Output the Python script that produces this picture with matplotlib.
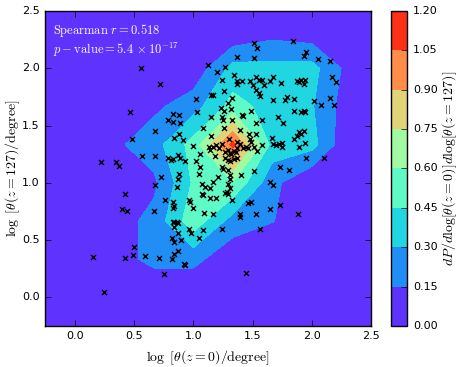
import numpy as np
import matplotlib
matplotlib.use("Agg")
import matplotlib.pyplot as plt

# ── DATA ──────────────────────────────────────────────────────────────────
# log theta(z=0), log theta(z=127) in degrees
x_z0 = [
    0.72, 1.12, 1.02, 1.20, 1.27, 1.37, 1.51, 1.54, 1.51, 1.34, 1.24, 1.37, 1.41, 1.37, 1.48, 1.53,
    1.55, 1.50, 1.53, 1.55, 1.26, 1.15, 1.17, 1.33, 1.29, 1.03, 1.23, 1.26, 1.32, 0.83, 0.88, 1.49,
    1.84, 1.95, 1.93, 2.05, 2.15, 2.17, 2.20, 1.58, 1.60, 1.65, 1.67, 1.74, 1.87, 1.89, 1.91, 1.94,
    1.93, 1.56, 1.67, 1.77, 1.79, 1.85, 2.02, 2.08, 2.15, 2.19, 1.85, 1.93, 1.94, 1.91,
    0.68, 0.79, 0.83, 0.89, 1.15, 1.24, 1.25, 1.33, 1.41, 1.42, 1.08, 1.26, 1.39, 1.47,
    0.88, 0.84, 0.91, 1.00, 1.15, 1.13, 1.14, 1.17, 1.19, 1.22, 1.24, 1.27, 1.29, 1.31, 1.32,
    1.34, 1.36, 1.30, 1.37, 1.39, 1.37, 1.42, 1.44, 1.46, 1.48, 1.49, 1.51, 0.68, 0.79,
    0.81, 0.83, 0.87, 0.89, 0.93, 1.06, 1.18, 1.27, 1.29, 1.31, 1.34, 1.37, 1.06, 1.05, 1.24,
    1.25, 1.29, 1.31, 0.88, 0.73, 0.87, 1.21, 1.17, 1.31, 0.68, 0.86, 1.07, 1.10, 1.14, 1.29, 1.31,
    1.40, 1.51, 1.07, 1.08, 1.14, 1.19, 1.27, 1.29, 1.28, 1.33, 1.02,
    1.58, 1.53, 1.71, 1.76, 1.53, 1.58, 1.54, 1.66, 1.67, 1.70, 1.72, 1.75, 1.75, 1.85, 1.87, 1.89,
    1.91, 1.93, 1.94, 1.89, 1.95, 2.10, 1.73, 1.81, 1.65, 1.67,
    0.76, 0.83, 0.84, 0.83, 0.96, 0.97, 1.00, 0.67, 1.09, 1.17, 0.83, 0.84, 0.86, 0.87, 0.84, 0.96,
    0.98, 1.08, 1.24, 0.87, 0.82, 0.84, 0.90, 1.05, 0.87, 0.84, 0.82, 0.71, 0.59, 0.50, 0.49, 0.92,
    0.93, 0.75,
    1.46, 1.49, 1.39, 1.39, 1.53, 1.65, 1.73, 1.56, 1.88, 1.44,
    0.56, 0.47, 0.48, 0.57, 0.22, 0.35, 0.37, 0.42, 0.40, 0.44, 0.42, 0.15, 0.25,
]
y_z127 = [
    1.86, 2.03, 1.73, 1.97, 2.01, 2.10, 2.22, 2.18, 2.09, 1.94, 1.90, 1.89, 1.89, 1.86, 1.89, 1.92,
    1.90, 1.85, 1.81, 1.78, 1.80, 1.77, 1.77, 1.74, 1.70, 1.62, 1.65, 1.63, 1.64, 1.60, 1.59, 1.63,
    2.24, 2.14, 2.11, 2.08, 2.06, 1.92, 1.88, 1.90, 1.85, 1.89, 1.92, 1.87, 1.89, 1.88, 1.90, 1.90,
    1.86, 1.76, 1.72, 1.72, 1.75, 1.73, 1.71, 1.68, 1.74, 1.68, 1.63, 1.63, 1.62, 1.62,
    1.45, 1.55, 1.53, 1.52, 1.57, 1.57, 1.55, 1.55, 1.59, 1.58, 1.48, 1.48, 1.46, 1.43,
    1.43, 1.39, 1.37, 1.32, 1.41, 1.31, 1.29, 1.31, 1.33, 1.30, 1.34, 1.27, 1.29, 1.26, 1.25,
    1.28, 1.27, 1.38, 1.36, 1.34, 1.30, 1.30, 1.31, 1.30, 1.38, 1.36, 1.31, 1.23, 1.22,
    1.20, 1.21, 1.24, 1.22, 1.19, 1.25, 1.23, 1.22, 1.20, 1.19, 1.21, 1.22, 1.14, 1.08, 1.14,
    1.12, 1.11, 1.07, 1.08, 1.05, 1.03, 1.05, 1.01, 1.03, 0.98, 0.96, 0.99, 0.96, 0.95, 0.99, 0.95,
    1.07, 1.10, 0.90, 0.89, 0.87, 0.87, 0.91, 0.90, 0.92, 0.85, 1.19,
    1.55, 1.52, 1.57, 1.52, 1.43, 1.33, 1.28, 1.39, 1.34, 1.33, 1.34, 1.35, 1.31, 1.38, 1.41, 1.44,
    1.43, 1.45, 1.35, 1.31, 1.22, 1.22, 1.14, 1.11, 1.01, 0.98,
    0.85, 0.83, 0.80, 0.78, 0.85, 0.83, 0.78, 0.75, 0.74, 0.73, 0.66, 0.66, 0.66, 0.65, 0.61, 0.60,
    0.56, 0.59, 0.60, 0.56, 0.52, 0.48, 0.50, 0.52, 0.40, 0.38, 0.33, 0.34, 0.36, 0.44, 0.37, 0.29,
    0.28, 0.20,
    0.82, 0.83, 0.73, 0.70, 0.73, 0.77, 0.81, 0.60, 0.73, 0.21,
    2.00, 1.62, 1.38, 1.23, 1.18, 1.18, 1.15, 0.90, 0.77, 0.75, 0.34, 0.35, 0.05,
]

spearman_r = 0.518
p_mant, p_exp = 5.4, -17
levels = np.arange(0.0, 1.2001, 0.15)

# ── DENSITY: normalised 2D histogram, 1/3-dex bins ────────────────────────
edges = np.linspace(-0.5, 17.0 / 6.0, 11)
dens, xe, ye = np.histogram2d(x_z0, y_z127, bins=[edges, edges], density=True)
xc = 0.5 * (xe[1:] + xe[:-1])
yc = 0.5 * (ye[1:] + ye[:-1])

# ── STYLE ─────────────────────────────────────────────────────────────────
plt.style.use("classic")
plt.rcParams.update({
    "figure.facecolor": "white",
    "mathtext.fontset": "cm",
    "xtick.labelsize": 8,
    "ytick.labelsize": 8,
})

fig = plt.figure(figsize=(4.6, 3.67), dpi=100)
ax = fig.add_axes([0.098, 0.112, 0.709, 0.858])
cax = fig.add_axes([0.850, 0.112, 0.0355, 0.858])

cf = ax.contourf(xc, yc, dens.T, levels=levels, cmap="rainbow")
ax.scatter(x_z0, y_z127, marker="x", s=13, c="k", linewidths=1.0, zorder=3)

ax.set_xlim(-0.25, 2.5)
ax.set_ylim(-0.25, 2.5)
ax.set_xticks(np.arange(0.0, 2.51, 0.5))
ax.set_yticks(np.arange(0.0, 2.51, 0.5))
ax.set_xlabel(r"$\log\ [\theta(z=0)/{\rm degree}]$", fontsize=10)
ax.set_ylabel(r"$\log\ [\theta(z=127)/{\rm degree}]$", fontsize=10)
ax.yaxis.set_label_coords(-0.07, 0.5)

ax.text(0.025, 0.965, r"${\rm Spearman}\ r=%.3f$" % spearman_r,
        transform=ax.transAxes, color="white", fontsize=9, va="top")
ax.text(0.025, 0.905,
        r"$p-{\rm value}=%.1f\,\times 10^{%d}$" % (p_mant, p_exp),
        transform=ax.transAxes, color="white", fontsize=9, va="top")

cb = fig.colorbar(cf, cax=cax, ticks=levels, format="%.2f")
cb.set_label(r"$dP/d\log[\theta(z=0)]d\log[\theta(z=127)]$", fontsize=10, labelpad=2)
cb.ax.tick_params(labelsize=8)

fig.savefig("out.png", dpi=100)
